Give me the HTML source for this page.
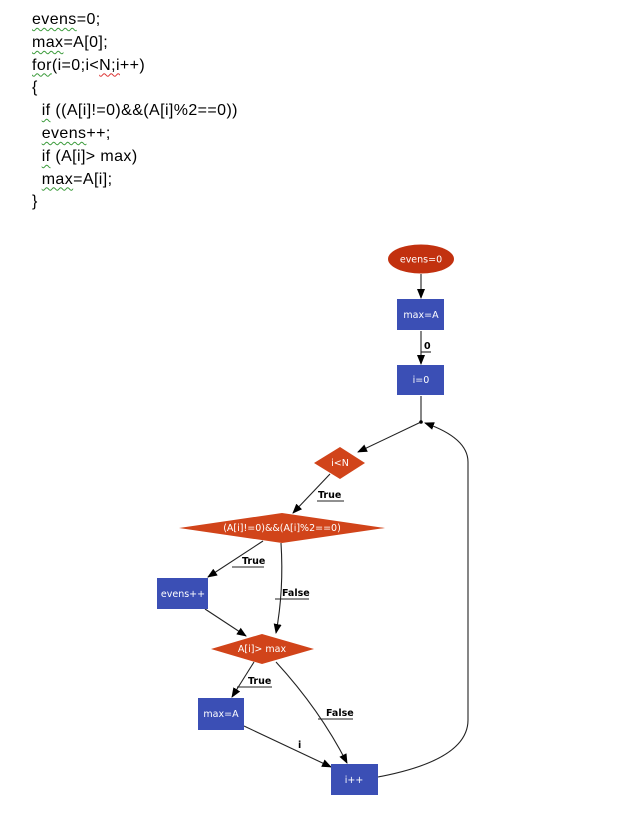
<!DOCTYPE html>
<html><head><meta charset="utf-8"><style>
html,body{margin:0;padding:0;background:#fff;width:617px;height:826px;overflow:hidden}
.code{position:absolute;left:32px;top:9px;font-family:"Liberation Sans",sans-serif;font-size:16px;letter-spacing:0.4px;line-height:22.8px;color:#000}
.code div{white-space:pre}
.sq{text-decoration:underline wavy #3a9a3a;text-decoration-thickness:1px;text-underline-offset:3px}
.sr{text-decoration:underline wavy #d33;text-decoration-thickness:1px;text-underline-offset:3px}
svg{position:absolute;left:0;top:0}
</style></head><body>
<div class="code">
<div><span class="sq">evens</span>=0;</div>
<div><span class="sq">max</span>=A[0];</div>
<div><span class="sq">for</span>(i=0;i&lt;<span class="sr">N;i</span>++)</div>
<div>{</div>
<div>  <span class="sq">if</span> ((A[i]!=0)&amp;&amp;(A[i]%2==0))</div>
<div>  <span class="sq">evens</span>++;</div>
<div>  <span class="sq">if</span> (A[i]&gt; max)</div>
<div>  <span class="sq">max</span>=A[i];</div>
<div>}</div>
</div>
<svg width="617" height="826" viewBox="0 0 617 826" font-family="DejaVu Sans, Liberation Sans, sans-serif">
<defs><marker id="a" markerWidth="10" markerHeight="8" refX="9" refY="4" orient="auto" markerUnits="userSpaceOnUse"><path d="M0,0 L10,4 L0,8 z" fill="#000"/></marker></defs>
<g stroke="#222" stroke-width="1.1" fill="none">
<line x1="421" y1="274" x2="421" y2="298" marker-end="url(#a)"/>
<line x1="421" y1="331" x2="421" y2="364" marker-end="url(#a)"/>
<line x1="421" y1="396" x2="421" y2="422"/>
<line x1="421" y1="422" x2="358" y2="452" marker-end="url(#a)"/>
<line x1="330" y1="474" x2="293" y2="513" marker-end="url(#a)"/>
<line x1="263" y1="541" x2="208" y2="577" marker-end="url(#a)"/>
<path d="M281,543 Q284,590 276,633" marker-end="url(#a)"/>
<line x1="205" y1="609" x2="246" y2="636" marker-end="url(#a)"/>
<line x1="254" y1="662" x2="232" y2="697" marker-end="url(#a)"/>
<path d="M276,662 Q320,710 347,763" marker-end="url(#a)"/>
<line x1="244" y1="726" x2="331" y2="767" marker-end="url(#a)"/>
<path d="M378,777 Q468,760 468,720 L468,462 Q468,438 425,423" marker-end="url(#a)"/>
<line x1="421" y1="352" x2="431" y2="352"/>
<line x1="317" y1="501" x2="344" y2="501"/>
<line x1="232" y1="567" x2="264" y2="567"/>
<line x1="275" y1="599" x2="309" y2="599"/>
<line x1="237" y1="687" x2="272" y2="687"/>
<line x1="318" y1="719" x2="353" y2="719"/>
</g>
<circle cx="421" cy="422" r="1.8" fill="#000"/>
<ellipse cx="421" cy="259" rx="33" ry="14.5" fill="#c2310f"/>
<rect x="397" y="299" width="47" height="31" fill="#3b4fb5"/>
<rect x="397" y="365" width="47" height="30" fill="#3b4fb5"/>
<polygon points="340,447 365,463 340,479 314,463" fill="#d1441a"/>
<polygon points="282,513 385,528 282,543 179,528" fill="#d1441a"/>
<rect x="157" y="578" width="51" height="31" fill="#3b4fb5"/>
<polygon points="262,634 314,649 262,664 211,649" fill="#d1441a"/>
<rect x="198" y="698" width="46" height="32" fill="#3b4fb5"/>
<rect x="331" y="764" width="47" height="31" fill="#3b4fb5"/>
<g fill="#fff" font-size="9.5" text-anchor="middle">
<text x="421" y="262.5">evens=0</text>
<text x="421" y="318">max=A</text>
<text x="421" y="383">i=0</text>
<text x="340" y="466">i&lt;N</text>
<text x="282" y="531">(A[i]!=0)&amp;&amp;(A[i]%2==0)</text>
<text x="183" y="597">evens++</text>
<text x="262" y="652">A[i]&gt; max</text>
<text x="221" y="717">max=A</text>
<text x="354" y="783">i++</text>
</g>
<g fill="#000" font-size="9.5" font-weight="bold">
<text x="424" y="349">0</text>
<text x="318" y="498">True</text>
<text x="242" y="564">True</text>
<text x="282" y="596">False</text>
<text x="248" y="684">True</text>
<text x="326" y="716">False</text>
<text x="298" y="748">i</text>
</g>
</svg>
</body></html>
